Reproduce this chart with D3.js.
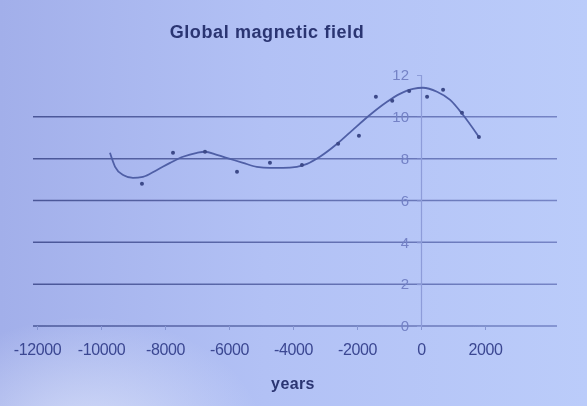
<!DOCTYPE html>
<html>
<head>
<meta charset="utf-8">
<script src="https://cdn.jsdelivr.net/npm/d3@7"></script>
<style>
  html, body { margin: 0; padding: 0; overflow: hidden; }
  body { width: 587px; height: 406px; }
  text { font-family: "Liberation Sans", Arial, sans-serif; }
</style>
</head>
<body>
<script>
var width = 587;
var height = 406;

// axis ticks
var xTicks = [-12000, -10000, -8000, -6000, -4000, -2000, 0, 2000];
var yTicks = [0, 2, 4, 6, 8, 10, 12];

var obsYears = [-8720, -7750, -6750, -5750, -4720, -3720, -2590, -1940, -1410, -900, -370, 190, 690, 1280, 1810];
var obsField = [6.8, 8.28, 8.33, 7.37, 7.8, 7.7, 8.71, 9.09, 10.96, 10.77, 11.24, 10.96, 11.29, 10.19, 9.04];

// trend curve, sampled along the drawn line
var fitYears = [-9720, -9560, -9310, -9000, -8690, -8250, -7840, -7440, -7000, -6750, -6380, -5970, -5560, -5130, -4720, -4310, -3880, -3560, -3160, -2620, -2130, -1590, -1060, -660, -250, 60, 500, 910, 1310, 1810];
var fitField = [8.28, 7.61, 7.22, 7.08, 7.13, 7.46, 7.8, 8.09, 8.28, 8.33, 8.18, 7.99, 7.8, 7.61, 7.56, 7.56, 7.61, 7.75, 8.09, 8.71, 9.38, 10.1, 10.72, 11.1, 11.34, 11.39, 11.2, 10.81, 10.1, 9.04];

var svg = d3.select("body").append("svg")
    .attr("width", width)
    .attr("height", height);

var defs = svg.append("defs");

var bg = defs.append("linearGradient")
    .attr("id", "bg")
    .attr("x1", "0%").attr("x2", "100%")
    .attr("y1", "0%").attr("y2", "0%");
bg.append("stop").attr("offset", "0%").attr("stop-color", "#a2afea");
bg.append("stop").attr("offset", "45%").attr("stop-color", "#b2c1f5");
bg.append("stop").attr("offset", "100%").attr("stop-color", "#bbccfa");

var glare = defs.append("radialGradient")
    .attr("id", "glare")
    .attr("cx", "15%").attr("cy", "108%").attr("r", "30%");
glare.append("stop").attr("offset", "0%").attr("stop-color", "#e6ecfc").attr("stop-opacity", 0.7);
glare.append("stop").attr("offset", "100%").attr("stop-color", "#e6ecfc").attr("stop-opacity", 0);

var gridInk = defs.append("linearGradient")
    .attr("id", "gridInk")
    .attr("gradientUnits", "userSpaceOnUse")
    .attr("x1", 30).attr("x2", 560)
    .attr("y1", 0).attr("y2", 0);
gridInk.append("stop").attr("offset", "0%").attr("stop-color", "#4a5697");
gridInk.append("stop").attr("offset", "100%").attr("stop-color", "#7584c6");

defs.append("filter")
    .attr("id", "soft")
  .append("feGaussianBlur")
    .attr("stdDeviation", 0.65);

svg.append("rect")
    .attr("width", width)
    .attr("height", height)
    .attr("fill", "url(#bg)");

svg.append("rect")
    .attr("width", width)
    .attr("height", height)
    .attr("fill", "url(#glare)");

var g = svg.append("g")
    .attr("filter", "url(#soft)");

var x = d3.scaleLinear()
    .domain([-12000, 4000])
    .range([37, 549]);

var y = d3.scaleLinear()
    .domain([0, 12])
    .range([326, 75]);

// horizontal gridlines
g.selectAll(".grid")
  .data(yTicks.filter(function(d) { return d < 12; }))
  .enter()
    .append("line")
    .attr("class", "grid")
    .attr("x1", x.range()[0] - 4)
    .attr("x2", x.range()[1] + 8)
    .attr("y1", function(d) { return y(d); })
    .attr("y2", function(d) { return y(d); })
    .attr("stroke", "url(#gridInk)")
    .attr("stroke-width", 1.5);

// x axis
var xAxis = g.append("g")
    .attr("transform", "translate(0," + y(0) + ")")
    .call(d3.axisBottom(x)
        .tickValues(xTicks)
        .tickFormat(function(d) { return String(d); })
        .tickSize(4)
        .tickPadding(14));
xAxis.select(".domain").remove();
xAxis.selectAll("line").attr("stroke", "#8595d2");
xAxis.selectAll("text")
    .attr("fill", "#3b4792")
    .attr("font-size", 16)
    .attr("letter-spacing", -0.4);

// y axis at year 0
var yAxis = g.append("g")
    .attr("transform", "translate(" + x(0) + ",0)")
    .call(d3.axisLeft(y)
        .tickValues(yTicks)
        .tickSize(4)
        .tickPadding(8));
yAxis.select(".domain")
    .attr("stroke", "#8d9cd9")
    .attr("stroke-width", 1.2);
yAxis.selectAll("line").attr("stroke", "#8d9cd9");
yAxis.selectAll("text")
    .attr("fill", "#7482c6")
    .attr("font-size", 15);

// trend curve
var line = d3.line()
    .x(function(d) { return x(d[0]); })
    .y(function(d) { return y(d[1]); })
    .curve(d3.curveMonotoneX);

g.append("path")
    .datum(d3.zip(fitYears, fitField))
    .attr("d", line)
    .attr("fill", "none")
    .attr("stroke", "#4f5fa6")
    .attr("stroke-width", 1.8);

// measured points
g.selectAll(".obs")
  .data(d3.zip(obsYears, obsField))
  .enter()
    .append("circle")
    .attr("class", "obs")
    .attr("cx", function(d) { return x(d[0]); })
    .attr("cy", function(d) { return y(d[1]); })
    .attr("r", 2)
    .attr("fill", "#3c4988");

// titles
g.append("text")
    .attr("x", 267)
    .attr("y", 38)
    .attr("text-anchor", "middle")
    .attr("font-size", 18)
    .attr("font-weight", "bold")
    .attr("letter-spacing", 0.6)
    .attr("fill", "#2b3572")
    .text("Global magnetic field");

g.append("text")
    .attr("x", 293)
    .attr("y", 389)
    .attr("text-anchor", "middle")
    .attr("font-size", 16)
    .attr("font-weight", "bold")
    .attr("letter-spacing", 0.4)
    .attr("fill", "#2b3572")
    .text("years");
</script>
</body>
</html>
